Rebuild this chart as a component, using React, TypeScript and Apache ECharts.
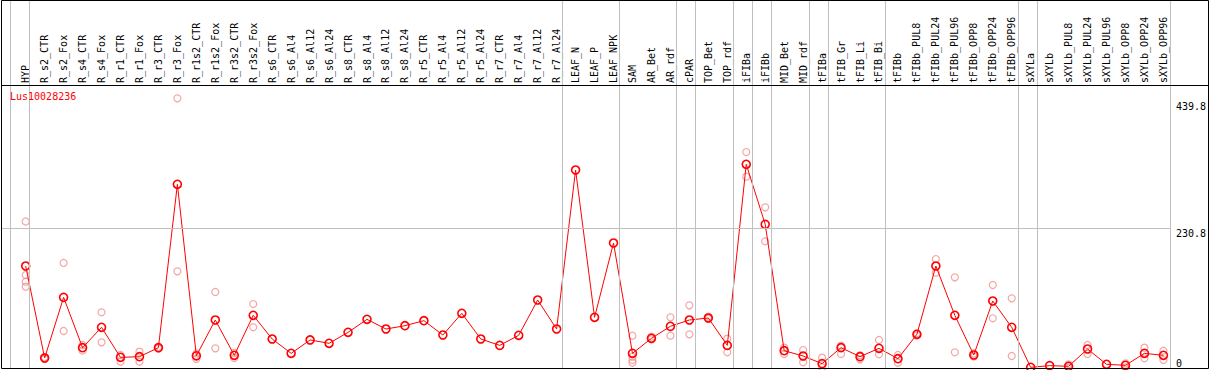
import React, { useEffect, useRef } from "react";
import * as echarts from "echarts";

const categories = [
  "HYP",
  "R_s2_CTR", "R_s2_Fox", "R_s4_CTR", "R_s4_Fox", "R_r1_CTR", "R_r1_Fox", "R_r3_CTR", "R_r3_Fox",
  "R_r1s2_CTR", "R_r1s2_Fox", "R_r3s2_CTR", "R_r3s2_Fox",
  "R_s6_CTR", "R_s6_Al4", "R_s6_Al12", "R_s6_Al24",
  "R_s8_CTR", "R_s8_Al4", "R_s8_Al12", "R_s8_Al24",
  "R_r5_CTR", "R_r5_Al4", "R_r5_Al12", "R_r5_Al24",
  "R_r7_CTR", "R_r7_Al4", "R_r7_Al12", "R_r7_Al24",
  "LEAF_N", "LEAF_P", "LEAF_NPK",
  "SAM", "AR_Bet", "AR_rdf", "cPAR", "TOP_Bet", "TOP_rdf",
  "iFIBa", "iFIBb", "MID_Bet", "MID_rdf",
  "tFIBa", "tFIB_Gr", "tFIB_Li", "tFIB_Bi",
  "tFIBb", "tFIBb_PUL8", "tFIBb_PUL24", "tFIBb_PUL96", "tFIBb_OPP8", "tFIBb_OPP24", "tFIBb_OPP96",
  "sXYLa", "sXYLb", "sXYLb_PUL8", "sXYLb_PUL24", "sXYLb_PUL96", "sXYLb_OPP8", "sXYLb_OPP24", "sXYLb_OPP96",
];

const means = [
  168.5,
  16.5, 116.7, 33.6, 67.2, 17.6, 18.7, 33.6, 303.4,
  20.1, 79.3, 20.9, 87.0,
  47.9, 24.2, 46.3, 40.8,
  58.9, 80.4, 64.4, 69.9,
  78.2, 54.5, 90.3, 47.9,
  37.4, 54.0, 112.3, 64.4,
  327.1, 83.7, 206.5,
  24.2, 49.0, 68.8, 79.3, 82.6, 37.4,
  336.5, 237.3, 28.6, 19.8,
  7.2, 33.6, 18.7, 32.5,
  15.4, 55.6, 168.5, 87.0, 21.5, 110.7, 67.2,
  1.1, 3.9, 2.8, 31.4, 6.1, 4.4, 24.2, 20.9,
];

const replicates: number[][] = [
  [242, 153.6, 142.6, 134.4],
  [15, 18], [173.5, 61.1], [38, 29], [92, 42.4], [21.5, 10.5], [27, 10.5], [35, 32], [445.5, 159.7],
  [24, 15], [125.6, 32.5], [25, 16.5], [105.7, 67.2],
  [], [], [], [],
  [], [], [], [],
  [], [], [], [],
  [], [], [], [],
  [], [], [],
  [53.4, 18.7, 13.2, 8.8], [51.8, 47.4], [83.7, 53.4], [103.5, 55.6], [84.8, 81.5], [48.5, 25.9],
  [356.8, 316.1], [265.4, 209.3], [33.6, 23.1], [29.7, 9.4],
  [17.1, 1.1], [36.9, 23.1], [20.9, 14.3], [46.3, 22.6],
  [21.5, 8.8], [57.3, 53.9], [180, 157.5], [149.8, 25.9], [24, 19], [137.1, 82.1], [115.1, 19.8],
  [], [], [6.1, 0.5], [38, 23.1], [], [7.7, 1.1], [33.6, 16], [28.6, 13.2],
];

// group separators: index of the category at whose left edge a line is drawn
const groupBoundaries = [0, 1, 29, 32, 35, 36, 38, 39, 40, 42, 43, 46, 53, 54, 61];
const geneTitle = "Lus10028236";
const yLabelValues = [230.8, 439.8];
const yZeroLabel = [0];
const gridLineValue = 230.8;

const FONT = "'DejaVu Sans Mono', monospace";

export default function App() {
  const ref = useRef<HTMLDivElement>(null);

  useEffect(() => {
    const chart = echarts.init(ref.current!, null, { renderer: "svg" });
    const PX_PER_UNIT = 0.6053;
    const COL = 1160 / 61;
    const frameLeft = 1.5;
    const sepLeft = 10.5;
    const xMin = -(sepLeft - frameLeft) / COL;
    const dataLeft = sepLeft + 0.3 * COL;

    const repData: [string, number][] = [];
    replicates.forEach((arr, i) => arr.forEach((v) => repData.push([categories[i], v])));

    const option: any = {
      animation: false,
      title: {
        text: geneTitle,
        left: 10,
        top: 91,
        padding: 0,
        textStyle: { color: "#ff0000", fontSize: 10, fontWeight: "normal", fontFamily: FONT },
      },
      grid: [
        { left: frameLeft, top: 0, width: 1169, height: 368 },
        { left: dataLeft, top: 85, width: 1160, height: 283 },
      ],
      xAxis: [
        { gridIndex: 0, type: "value", min: xMin, max: 61, show: false },
        {
          gridIndex: 1,
          type: "category",
          data: categories,
          position: "top",
          boundaryGap: true,
          axisLine: { show: false },
          axisTick: { show: false },
          splitLine: { show: false },
          axisLabel: {
            interval: 0,
            rotate: 90,
            margin: 2,
            fontFamily: FONT,
            fontSize: 10,
            color: "#000",
          },
        },
      ],
      yAxis: [
        { gridIndex: 0, type: "value", min: 0, max: 368 / PX_PER_UNIT, show: false },
        {
          gridIndex: 1,
          type: "value",
          min: 0,
          max: 283 / PX_PER_UNIT,
          position: "right",
          axisLine: { show: false },
          axisTick: { show: false },
          splitLine: { show: false },
          axisLabel: {
            customValues: yLabelValues,
            verticalAlign: "top",
            margin: 3,
            fontFamily: FONT,
            fontSize: 10,
            color: "#000",
            formatter: (v: number) => String(v),
          },
        },
        {
          gridIndex: 1,
          type: "value",
          min: 0,
          max: 283 / PX_PER_UNIT,
          position: "right",
          axisLine: { show: false },
          axisTick: { show: false },
          splitLine: { show: false },
          axisLabel: {
            customValues: yZeroLabel,
            verticalAlign: "bottom",
            margin: 3,
            fontFamily: FONT,
            fontSize: 10,
            color: "#000",
            formatter: (v: number) => String(v),
          },
        },
      ],
      series: [
        {
          type: "line",
          xAxisIndex: 0,
          yAxisIndex: 0,
          data: [],
          silent: true,
          z: 1,
          markLine: {
            silent: true,
            symbol: ["none", "none"],
            label: { show: false },
            lineStyle: { color: "#c0c0c0", width: 1, type: "solid" },
            emphasis: { disabled: true },
            data: [
              ...groupBoundaries.map((b) => ({ xAxis: b })),
              { yAxis: gridLineValue },
            ],
          },
        },
        {
          type: "scatter",
          xAxisIndex: 1,
          yAxisIndex: 1,
          data: repData,
          symbol: "circle",
          symbolSize: 7,
          clip: false,
          silent: true,
          z: 2,
          itemStyle: { color: "rgba(0,0,0,0)", borderColor: "#f09090", borderWidth: 1.2 },
        },
        {
          type: "line",
          xAxisIndex: 1,
          yAxisIndex: 1,
          data: means,
          symbol: "circle",
          symbolSize: 8,
          showSymbol: true,
          showAllSymbol: true,
          clip: false,
          silent: true,
          z: 3,
          lineStyle: { color: "#ff0000", width: 1 },
          itemStyle: { color: "rgba(0,0,0,0)", borderColor: "#ff0000", borderWidth: 1.6 },
        },
      ],
      graphic: [
        {
          type: "rect",
          silent: true,
          z: 100,
          shape: { x: 1.5, y: 0.5, width: 1207, height: 368 },
          style: { fill: "none", stroke: "#000", lineWidth: 1 },
        },
        {
          type: "line",
          silent: true,
          z: 100,
          shape: { x1: 1, y1: 85.5, x2: 1209, y2: 85.5 },
          style: { stroke: "#000", lineWidth: 1 },
        },
      ],
    };

    chart.setOption(option);
    return () => chart.dispose();
  }, []);

  return (
    <div
      ref={ref}
      style={{ position: "absolute", left: 0, top: 0, width: 1209, height: 370, background: "#fff" }}
    />
  );
}
